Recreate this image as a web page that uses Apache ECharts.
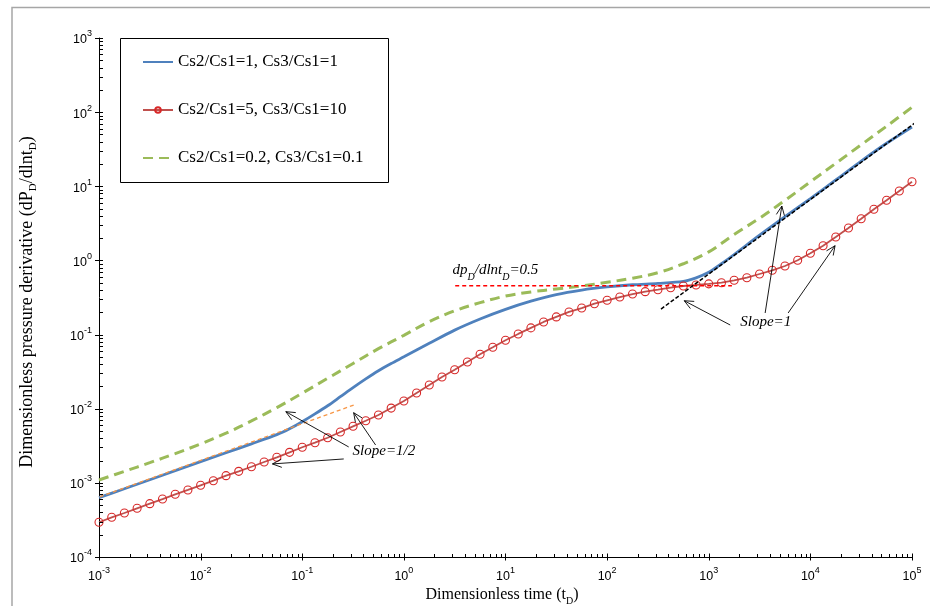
<!DOCTYPE html>
<html><head><meta charset="utf-8">
<script src="https://cdn.jsdelivr.net/npm/echarts@6/dist/echarts.min.js"></script>
<style>html,body{margin:0;padding:0;background:#fff}#c{width:930px;height:606px}</style>
</head><body><div id="c"></div>
<script>
// ---- tick labels (exponents of 10) ----
const xTickExponents = ['-3','-2','-1','0','1','2','3','4','5'];
const yTickExponents = ['-4','-3','-2','-1','0','1','2','3'];

const seriesNames = ['Cs2/Cs1=1, Cs3/Cs1=1', 'Cs2/Cs1=5, Cs3/Cs1=10', 'Cs2/Cs1=0.2, Cs3/Cs1=0.1'];

// ---- blue: Cs2/Cs1=1, Cs3/Cs1=1 ----
const blueT = [0.001, 0.001778, 0.003162, 0.005623, 0.01, 0.01778, 0.03162, 0.05623, 0.07499, 0.1, 0.1334, 0.1778, 0.2371, 0.3162, 0.4217, 0.5623, 0.7499,
  1, 1.778, 3.162, 5.623, 10, 17.78, 31.62, 56.23, 100, 177.8, 316.2, 562.3, 749.9,
  1000, 1334, 1778, 3162, 5623, 10000, 17780, 31620, 56230, 100000];
const blueY = [6.31e-4, 8.32e-4, 1.102e-3, 1.459e-3, 1.932e-3, 2.547e-3, 3.357e-3, 4.467e-3, 5.37e-3, 6.68e-3, 8.51e-3, 1.096e-2, 1.452e-2, 1.928e-2, 2.529e-2, 3.258e-2, 4.074e-2,
  5.01e-2, 7.62e-2, 0.1148, 0.1622, 0.2188, 0.2818, 0.3467, 0.3981, 0.4385, 0.4699, 0.4898, 0.5212, 0.582,
  0.6918, 0.902, 1.202, 2.188, 3.890, 6.839, 12.16, 21.88, 38.02, 63.10];

// ---- red: Cs2/Cs1=5, Cs3/Cs1=10 ----
const redT = [0.001,0.001334,0.001778,0.002371,0.003162,0.004217,0.005623,0.007499,
  0.01,0.01334,0.01778,0.02371,0.03162,0.04217,0.05623,0.07499,
  0.1,0.1334,0.1778,0.2371,0.3162,0.4217,0.5623,0.7499,
  1,1.334,1.778,2.371,3.162,4.217,5.623,7.499,
  10,13.34,17.78,23.71,31.62,42.17,56.23,74.99,
  100,133.4,177.8,237.1,316.2,421.7,562.3,749.9,
  1000,1334,1778,2371,3162,4217,5623,7499,
  10000,13340,17780,23710,31620,42170,56230,74990,
  100000];
const redY = [2.94e-4,3.43e-4,3.92e-4,4.54e-4,5.24e-4,6.05e-4,7.01e-4,8.02e-4,
  9.27e-4,1.07e-3,1.25e-3,1.43e-3,1.65e-3,1.91e-3,2.21e-3,2.58e-3,
  3.02e-3,3.48e-3,4.06e-3,4.85e-3,5.79e-3,6.89e-3,8.22e-3,1.02e-2,
  1.27e-2,1.63e-2,2.09e-2,2.68e-2,3.36e-2,4.27e-2,5.42e-2,6.73e-2,
  8.38e-2,0.102,0.123,0.148,0.173,0.202,0.228,0.261,
  0.290,0.321,0.352,0.379,0.403,0.429,0.452,0.467,
  0.483,0.501,0.540,0.585,0.656,0.736,0.841,1.005,
  1.247,1.581,2.070,2.742,3.656,4.898,6.471,8.650,
  11.53];

// ---- green: Cs2/Cs1=0.2, Cs3/Cs1=0.1 ----
const greenT = [0.001, 0.001778, 0.003162, 0.005623, 0.01, 0.01778, 0.03162, 0.05623, 0.1, 0.1778, 0.3162, 0.5623,
  1, 1.778, 3.162, 5.623, 10, 17.78, 31.62, 56.23, 100, 177.8, 316.2, 562.3,
  1000, 1778, 3162, 5623, 10000, 17780, 31620, 56230, 100000];
const greenY = [1.094e-3, 1.429e-3, 1.871e-3, 2.483e-3, 3.350e-3, 4.677e-3, 6.839e-3, 1.035e-2, 1.622e-2, 2.570e-2, 4.074e-2, 6.457e-2,
  9.772e-2, 0.1493, 0.2089, 0.2692, 0.3311, 0.3758, 0.4121, 0.4519, 0.5070, 0.5754, 0.6839, 0.9016,
  1.303, 2.239, 3.715, 6.457, 11.48, 20.42, 36.31, 64.57, 116.4];

// ---- reference lines ----
const halfSlopeT = [6.5e-4, 0.321];
const halfSlopeY = [5.19e-4, 0.0112];
const plateauT = [3.2, 1690];
const plateauY = [0.455, 0.455];
const unitSlopeT = [339, 1.11e5];
const unitSlopeY = [0.221, 74.3];

// ---- annotation arrows: [tailT, tailY, headT, headY] ----
const arrowData = [
  [0.2864, 3.05e-3, 0.0689, 9.12e-3],
  [0.527, 3.24e-3, 0.3206, 8.84e-3],
  [0.256, 2.10e-3, 0.0509, 1.80e-3],
  [1626, 0.1346, 574, 0.286],
  [3589, 0.1954, 5236, 5.42],
  [6040, 0.1954, 17500, 1.58]
];
// ---- annotation texts: [t, y, textIndex] ----
const noteTexts = ['{i|Slope=1/2}', '{i|Slope=1}', '{i|dp}{s|D}{i|/dlnt}{s|D}{i|=0.5}'];
const noteData = [[0.313, 2.53e-3, 0], [2042, 0.139, 1], [3.01, 0.70, 2]];

const zip = (a, b) => a.map((v, i) => [v, b[i]]);

// axis decoration ticks (log-spaced minor ticks)
const tickData = [];
for (let d = -3; d <= 5; d++) {
  tickData.push([Math.pow(10, d), 1e-4, 0, 1]);
  if (d < 5) for (let m = 2; m <= 9; m++) tickData.push([m * Math.pow(10, d), 1e-4, 0, 0]);
}
for (let d = -4; d <= 3; d++) {
  tickData.push([1e-3, Math.pow(10, d), 1, 1]);
  if (d < 3) for (let m = 2; m <= 9; m++) tickData.push([1e-3, m * Math.pow(10, d), 1, 0]);
}

const serif = '"Liberation Serif", "Times New Roman", serif';
const sans = '"Liberation Sans", Arial, sans-serif';

const chart = echarts.init(document.getElementById('c'), null, {renderer: 'canvas'});
const tickRich = {
  b: {fontSize: 12.5, fontFamily: sans, color: '#000', lineHeight: 17, verticalAlign: 'bottom'},
  e: {fontSize: 9, fontFamily: sans, color: '#000', lineHeight: 9, verticalAlign: 'top'}
};
const xTitleRich = {
  a: {fontSize: 16, fontFamily: serif, color: '#000', lineHeight: 20, verticalAlign: 'top'},
  s: {fontSize: 10, fontFamily: serif, color: '#000', lineHeight: 10, padding: [9, 0, 0, 0], verticalAlign: 'top'}
};
const yTitleRich = {
  a: {fontSize: 18, fontFamily: serif, color: '#000', lineHeight: 22, verticalAlign: 'top'},
  s: {fontSize: 11, fontFamily: serif, color: '#000', lineHeight: 11, padding: [10, 0, 0, 0], verticalAlign: 'top'}
};
const noteRich = {
  i: {fontSize: 15, fontFamily: serif, fontStyle: 'italic', color: '#000', lineHeight: 18, verticalAlign: 'top'},
  s: {fontSize: 10, fontFamily: serif, fontStyle: 'italic', color: '#000', lineHeight: 10, padding: [9, 0, 0, 0], verticalAlign: 'top'}
};

const option = {
  animation: false,
  backgroundColor: '#fff',
  grid: {left: 99, right: 18, top: 38, bottom: 49, containLabel: false},
  xAxis: {
    type: 'log', logBase: 10, min: 0.001, max: 100000,
    axisLine: {lineStyle: {color: '#000', width: 1}},
    axisTick: {show: false}, splitLine: {show: false}, minorTick: {show: false},
    axisLabel: {
      margin: 9,
      formatter: v => '{b|10}{e|' + xTickExponents[Math.round(Math.log10(v)) + 3] + '}',
      rich: tickRich
    }
  },
  yAxis: {
    type: 'log', logBase: 10, min: 0.0001, max: 1000,
    axisLine: {lineStyle: {color: '#000', width: 1}},
    axisTick: {show: false}, splitLine: {show: false}, minorTick: {show: false},
    axisLabel: {
      margin: 7,
      formatter: v => '{b|10}{e|' + yTickExponents[Math.round(Math.log10(v)) + 4] + '}',
      rich: tickRich
    }
  },
  legend: {
    orient: 'vertical', left: 142, top: 52, z: 10, padding: 0,
    itemWidth: 30, itemHeight: 7, itemGap: 28,
    textStyle: {fontFamily: serif, fontSize: 17, lineHeight: 20, color: '#000'},
    data: [
      {name: seriesNames[0], itemStyle: {color: 'rgba(0,0,0,0)', borderWidth: 0, opacity: 0}},
      {name: seriesNames[1]},
      {name: seriesNames[2], itemStyle: {color: 'rgba(0,0,0,0)', borderWidth: 0, opacity: 0}}
    ]
  },
  graphic: [
    {type: 'polyline', z: 0, silent: true, shape: {points: [[12, 606], [12, 7.5], [930, 7.5]]}, style: {stroke: '#a6a6a6', lineWidth: 1.5, fill: 'none'}},
    {type: 'rect', z: 5, silent: true, shape: {x: 120.5, y: 38.5, width: 268, height: 144}, style: {fill: '#fff', stroke: '#000', lineWidth: 1}},
    {type: 'text', x: 502, y: 597, silent: true, style: {text: '{a|Dimensionless time (t}{s|D}{a|)}', rich: xTitleRich, align: 'center', verticalAlign: 'middle'}},
    {type: 'text', x: 29, y: 302, rotation: Math.PI / 2, silent: true, style: {text: '{a|Dimensionless pressure derivative (dP}{s|D}{a|/dlnt}{s|D}{a|)}', rich: yTitleRich, align: 'center', verticalAlign: 'middle'}}
  ],
  series: [
    {
      name: seriesNames[0], type: 'line', data: zip(blueT, blueY), smooth: 0.3, showSymbol: false, symbol: 'none',
      lineStyle: {color: '#4F81BD', width: 2.8}, itemStyle: {color: '#4F81BD'}, z: 3
    },
    {
      name: seriesNames[1], type: 'line', data: zip(redT, redY), smooth: false,
      symbol: 'circle', symbolSize: 8, showSymbol: true,
      lineStyle: {color: '#C0504D', width: 1.8},
      itemStyle: {color: 'rgba(255,255,255,0)', borderColor: '#D82828', borderWidth: 1.1}, z: 4
    },
    {
      name: seriesNames[2], type: 'line', data: zip(greenT, greenY), smooth: 0.35, showSymbol: false, symbol: 'none',
      lineStyle: {color: '#9BBB59', width: 3, type: [10, 6]}, itemStyle: {color: '#9BBB59'}, z: 3
    },
    {
      name: 'slopeHalf', type: 'line', data: zip(halfSlopeT, halfSlopeY), clip: false, symbol: 'none', silent: true,
      lineStyle: {color: '#F79646', width: 1.3, type: [4, 3]}, z: 5
    },
    {
      name: 'plateau', type: 'line', data: zip(plateauT, plateauY), clip: false, symbol: 'none', silent: true,
      lineStyle: {color: '#FF0000', width: 1.5, type: [4, 3]}, z: 5
    },
    {
      name: 'slopeOne', type: 'line', data: zip(unitSlopeT, unitSlopeY), clip: false, symbol: 'none', silent: true,
      lineStyle: {color: '#000', width: 1.5, type: [4, 2]}, z: 5
    },
    {
      name: 'ticks', type: 'custom', data: tickData, silent: true, clip: false, z: 6,
      encode: {x: 0, y: 1},
      renderItem: (params, api) => {
        const p = api.coord([api.value(0), api.value(1)]);
        const kind = api.value(2), major = api.value(3);
        if (kind === 0) {
          const x = Math.round(p[0]) + 0.5;
          return {type: 'line', shape: {x1: x, y1: p[1] + (major ? 3.5 : 0), x2: x, y2: p[1] - (major ? 3.5 : 3)}, style: {stroke: '#000', lineWidth: 1}};
        }
        const y = Math.round(p[1]) + 0.5;
        return {type: 'line', shape: {x1: p[0] - (major ? 4 : 0), y1: y, x2: p[0] + 4, y2: y}, style: {stroke: '#000', lineWidth: 1}};
      }
    },
    {
      name: 'arrows', type: 'custom', data: arrowData, silent: true, clip: false, z: 7,
      encode: {x: [0, 2], y: [1, 3]},
      renderItem: (params, api) => {
        const a = api.coord([api.value(0), api.value(1)]);
        const b = api.coord([api.value(2), api.value(3)]);
        const ang = Math.atan2(b[1] - a[1], b[0] - a[0]);
        const L = 10, w = 0.42;
        const h1 = [b[0] - L * Math.cos(ang - w), b[1] - L * Math.sin(ang - w)];
        const h2 = [b[0] - L * Math.cos(ang + w), b[1] - L * Math.sin(ang + w)];
        return {type: 'group', children: [
          {type: 'line', shape: {x1: a[0], y1: a[1], x2: b[0], y2: b[1]}, style: {stroke: '#000', lineWidth: 0.9}},
          {type: 'polyline', shape: {points: [h1, b, h2]}, style: {stroke: '#000', lineWidth: 0.9, fill: 'none'}}
        ]};
      }
    },
    {
      name: 'notes', type: 'custom', data: noteData, silent: true, clip: false, z: 8,
      encode: {x: 0, y: 1},
      renderItem: (params, api) => {
        const p = api.coord([api.value(0), api.value(1)]);
        return {type: 'text', x: p[0], y: p[1], style: {text: noteTexts[api.value(2)], rich: noteRich, align: 'left', verticalAlign: 'middle'}};
      }
    }
  ]
};
chart.setOption(option);
</script>
</body></html>
